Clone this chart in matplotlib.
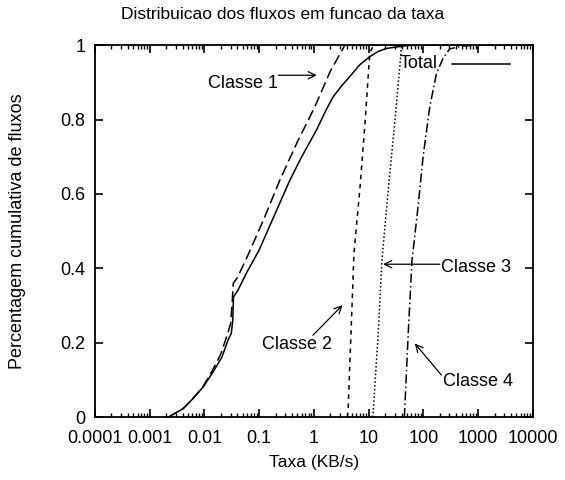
import matplotlib
matplotlib.use("Agg")
import matplotlib.pyplot as plt
from matplotlib.ticker import LogLocator, NullFormatter

plt.rcParams["font.family"] = ["Liberation Sans", "DejaVu Sans"]
plt.rcParams["font.size"] = 13

# ----------------------------
# Data (cumulative fraction of flows vs rate)
# ----------------------------
total_x = [0.0022, 0.0041, 0.0062, 0.0095, 0.0145, 0.021, 0.027, 0.031, 0.033,
           0.034, 0.041, 0.06, 0.1, 0.2, 0.365, 0.6, 1.12, 1.6, 2.25, 3.2, 4.5,
           7.0, 10.5, 15, 21, 50, 100, 10000]
total_y = [0.0, 0.023, 0.05, 0.081, 0.122, 0.162, 0.207, 0.225, 0.26,
           0.323, 0.341, 0.39, 0.449, 0.55, 0.637, 0.70, 0.772, 0.82, 0.861, 0.89,
           0.915, 0.948, 0.969, 0.983, 0.991, 0.999, 1.0, 1.0]

c1_x = [0.0022, 0.0041, 0.0062, 0.0095, 0.014, 0.020, 0.026, 0.030, 0.032,
        0.0336, 0.040, 0.059, 0.12, 0.239, 0.5, 1.04, 2.0, 3.7, 10000]
c1_y = [0.0, 0.023, 0.05, 0.083, 0.125, 0.17, 0.22, 0.25, 0.30,
        0.359, 0.375, 0.427, 0.53, 0.637, 0.74, 0.834, 0.93, 1.0, 1.0]

c2_x = [4.1, 4.25, 4.9, 5.4, 6.9, 8.6, 10.5, 12, 15, 10000]
c2_y = [0.0, 0.03, 0.27, 0.44, 0.61, 0.79, 0.978, 0.997, 1.0, 1.0]

c3_x = [12, 12.1, 15, 17.5, 22.8, 30, 40, 50, 10000]
c3_y = [0.0, 0.01, 0.225, 0.42, 0.61, 0.79, 0.995, 1.0, 1.0]

c4_x = [45, 46, 53, 62, 80, 99, 131, 174, 230, 305, 500, 900, 10000]
c4_y = [0.0, 0.028, 0.225, 0.42, 0.565, 0.70, 0.834, 0.924, 0.965, 0.99, 0.997, 1.0, 1.0]

x_ticks = [0.0001, 0.001, 0.01, 0.1, 1, 10, 100, 1000, 10000]
x_labels = ["0.0001", "0.001", "0.01", "0.1", "1", "10", "100", "1000", "10000"]
y_ticks = [0, 0.2, 0.4, 0.6, 0.8, 1]
y_labels = ["0", "0.2", "0.4", "0.6", "0.8", "1"]

# ----------------------------
# Plot
# ----------------------------
fig = plt.figure(figsize=(5.65, 4.8), dpi=100)
ax = fig.add_axes([0.168, 0.131, 0.775, 0.775])

lw = 1.1
ax.plot(total_x, total_y, color="black", lw=lw, ls="-")
ax.plot(c1_x, c1_y, color="black", lw=lw, ls=(0, (7, 3)))
ax.plot(c2_x, c2_y, color="black", lw=lw, ls=(0, (3, 3)))
ax.plot(c3_x, c3_y, color="black", lw=lw, ls=(0, (1, 1.5)))
ax.plot(c4_x, c4_y, color="black", lw=lw, ls=(0, (6, 2, 1, 2)))

ax.set_xscale("log")
ax.set_xlim(0.0001, 10000)
ax.set_ylim(0, 1)
ax.set_xticks(x_ticks, x_labels)
ax.set_yticks(y_ticks, y_labels)
ax.xaxis.set_minor_locator(LogLocator(base=10, subs=range(2, 10), numticks=20))
ax.xaxis.set_minor_formatter(NullFormatter())
ax.tick_params(which="both", direction="in", top=True, right=True, labelsize=13)
ax.tick_params(which="major", length=6, width=1.2)
ax.tick_params(which="minor", length=3, width=1.0)
ax.tick_params(axis="x", which="major", pad=9)
ax.tick_params(axis="y", which="major", pad=7)
for s in ax.spines.values():
    s.set_linewidth(1.3)

ax.set_xlabel("Taxa (KB/s)", fontsize=12.5)
ax.set_ylabel("Percentagem cumulativa de fluxos", fontsize=13)
ax.xaxis.set_label_coords(0.5, -0.102)
ax.yaxis.set_label_coords(-0.158, 0.5)
fig.text(0.5, 0.969, "Distribuicao dos fluxos em funcao da taxa",
         ha="center", va="center", fontsize=12.5)

# Labels and arrows for each curve
arrow = dict(arrowstyle="->", color="black", lw=0.9, shrinkA=0, shrinkB=0,
             mutation_scale=13)
ax.text(0.22, 0.898, "Classe 1", ha="right", va="center")
ax.annotate("", xy=(1.13, 0.919), xytext=(0.225, 0.919), arrowprops=arrow)

ax.text(37, 0.95, "Total", ha="left", va="center")
ax.plot([331, 3800], [0.95, 0.95], color="black", lw=lw)

ax.text(0.112, 0.196, "Classe 2", ha="left", va="center")
ax.annotate("", xy=(3.34, 0.301), xytext=(0.96, 0.22), arrowprops=arrow)

ax.text(209, 0.403, "Classe 3", ha="left", va="center")
ax.annotate("", xy=(18.4, 0.411), xytext=(200, 0.411), arrowprops=arrow)

ax.text(227, 0.097, "Classe 4", ha="left", va="center")
ax.annotate("", xy=(70, 0.198), xytext=(214, 0.113), arrowprops=arrow)

fig.savefig("out.png", dpi=100)
